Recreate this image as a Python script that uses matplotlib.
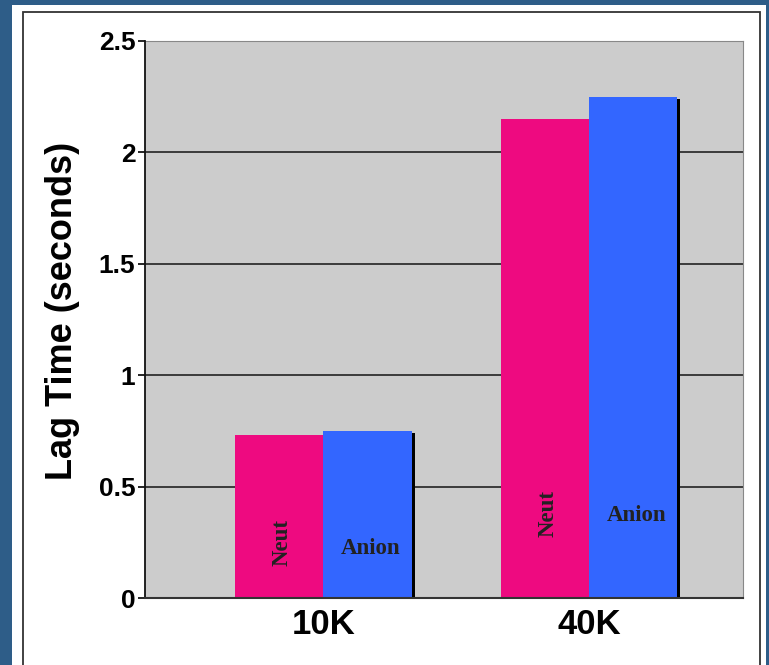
import matplotlib

matplotlib.use("Agg")
import matplotlib.pyplot as plt
import matplotlib.patheffects as pe
import numpy as np
from matplotlib.patches import Rectangle

# data
categories = ["10K", "40K"]
neut_values = [0.73, 2.15]
anion_values = [0.75, 2.25]
series_names = ["Neut", "Anion"]
y_ticks = [0, 0.5, 1, 1.5, 2, 2.5]
y_tick_labels = ["0", "0.5", "1", "1.5", "2", "2.5"]

# label placement inside the bars (y in data units)
neut_label_y = [0.25, 0.38]
anion_label_y = [0.22, 0.37]

PINK = "#EE0A80"
BLUE = "#3366FF"
PLOT_BG = "#CCCCCC"
FRAME_BLUE = "#2E5D88"

W, H = 769, 665
fig = plt.figure(figsize=(W / 100, H / 100), dpi=100, facecolor=FRAME_BLUE)

# white slide panel and its thin inner border (drawn behind the axes)
fig.patches.append(Rectangle((12 / W, 0), 754 / W, 660 / H, transform=fig.transFigure,
                             facecolor="white", edgecolor="none", zorder=-3))
fig.patches.append(Rectangle((23 / W, -0.01), 737 / W, 653 / H + 0.01, transform=fig.transFigure,
                             facecolor="none", edgecolor="#333333", linewidth=1.3, zorder=-2))

ax = fig.add_axes([145 / W, (H - 598) / H, 598 / W, 557 / H])
ax.set_facecolor(PLOT_BG)

x = np.arange(len(categories))
width = 0.333
shadow = [pe.SimplePatchShadow(offset=(2.2, -1.4), shadow_rgbFace="black", alpha=1.0), pe.Normal()]

ax.bar(x - width / 2, neut_values, width=width, color=PINK, edgecolor="none",
       path_effects=shadow, zorder=3)
ax.bar(x + width / 2, anion_values, width=width, color=BLUE, edgecolor="none",
       path_effects=shadow, zorder=4)

serif = {"family": "Liberation Serif", "weight": "bold", "size": 16.5, "color": "#222222"}
for i in range(len(categories)):
    ax.text(x[i] - width / 2 + 0.012, neut_label_y[i], series_names[0], rotation=90,
            ha="center", va="center", zorder=6, **serif)
    ax.text(x[i] + width / 2 + 0.012, anion_label_y[i], series_names[1],
            ha="center", va="center", zorder=6, **serif)

ax.set_xlim(-0.672, 1.580)
ax.set_ylim(0, 2.5)
ax.set_yticks(y_ticks)
ax.set_yticklabels(y_tick_labels, fontfamily="Liberation Sans", fontweight="bold", fontsize=19)
ax.set_xticks(x)
ax.set_xticklabels(categories, fontfamily="Liberation Sans", fontweight="bold", fontsize=25)
ax.tick_params(axis="x", length=0, pad=7)
ax.tick_params(axis="y", length=5, width=1.2, direction="out", pad=2)

ax.grid(axis="y", color="#222222", linewidth=1.2, zorder=1)
ax.set_axisbelow(True)

ax.spines["left"].set_color("#111111")
ax.spines["left"].set_linewidth(1.3)
ax.spines["bottom"].set_color("#333333")
ax.spines["bottom"].set_linewidth(1.5)
ax.spines["top"].set_color("#888888")
ax.spines["right"].set_color("#888888")
for side in ["bottom", "left"]:
    ax.spines[side].set_zorder(7)

ax.set_ylabel("Lag Time (seconds)", fontfamily="Liberation Sans", fontweight="bold",
              fontsize=26)
ax.yaxis.set_label_coords(-0.108, 0.515)

fig.savefig("out.png", dpi=100, facecolor=fig.get_facecolor())
